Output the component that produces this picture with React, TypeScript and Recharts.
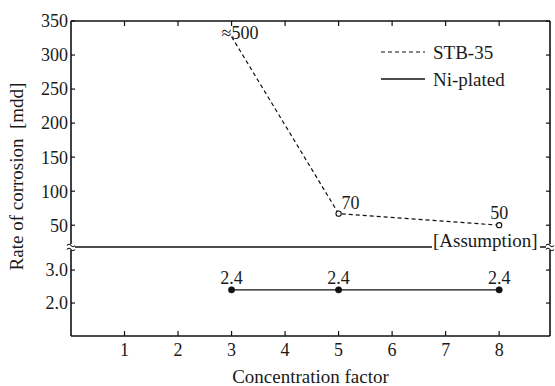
import { ComposedChart, Line, XAxis, YAxis, LabelList, Legend } from 'recharts';

// Corrosion rate vs. concentration factor (broken y axis: mdd above, small values below)
const concentration = [3, 5, 8];
// first STB-35 point is off scale (≈500 mdd), drawn just under the top edge
const stbPlotted = [327, 67, 50];
const stbLabels = ['≈500', '70', '50'];
const niPlated = [2.4, 2.4, 2.4];
const niLabels = ['2.4', '2.4', '2.4'];
const seriesNames = ['STB-35', 'Ni-plated'];

const xTicks = [1, 2, 3, 4, 5, 6, 7, 8];
const upperTicks = [50, 100, 150, 200, 250, 300, 350];
const lowerTicks = [2, 3];

const upperData = concentration.map((c, i) => ({ c, stb: stbPlotted[i], label: stbLabels[i] }));
const lowerData = concentration.map((c, i) => ({ c, ni: niPlated[i], label: niLabels[i] }));

const W = 555;
const H = 386;
const INK = '#111';
const TEXT = '#1a1a1a';
const X_DOMAIN: [number, number] = [0, 8.95];
const BREAK_Y = 247;
const LOWER_TOP = 240;

const tickStyle = { fontSize: 18, fill: TEXT };
const axisLine = { stroke: INK, strokeWidth: 1.6 };
const tickLine = { stroke: INK, strokeWidth: 1.2 };
const noLabel = () => <g />;

const StbLabel = (props: any) => {
  const { x, y, value, index } = props;
  if (index === 0) {
    return <text x={x - 10} y={y + 2} fontSize={18} fill={TEXT}>{value}</text>;
  }
  if (index === 1) {
    return <text x={x + 3} y={y - 5} fontSize={18} fill={TEXT}>{value}</text>;
  }
  return <text x={x} y={y - 6} fontSize={18} fill={TEXT} textAnchor="middle">{value}</text>;
};

const StbDot = (props: any) => {
  const { cx, cy, index } = props;
  if (index === 0) return <g key={`d${index}`} />;
  return <circle key={`d${index}`} cx={cx} cy={cy} r={2.6} fill="#fff" stroke={INK} strokeWidth={1.1} />;
};

const renderLegend = () => (
  <svg width={170} height={60}>
    <line x1={3} x2={47} y1={14} y2={14} stroke={INK} strokeWidth={1.2} strokeDasharray="4 3" />
    <text x={55} y={21} fontSize={19} fill={TEXT}>{seriesNames[0]}</text>
    <line x1={3} x2={47} y1={41} y2={41} stroke={INK} strokeWidth={1.3} />
    <text x={55} y={48} fontSize={19} fill={TEXT}>{seriesNames[1]}</text>
  </svg>
);

const breakMark = (x: number, y: number) => (
  <g>
    <rect x={x - 4} y={y - 3} width={8} height={6} fill="#fff" />
    <path d={`M${x - 4},${y - 1.5} q2,-2.5 4,0 t4,0`} fill="none" stroke={INK} strokeWidth={1.1} />
    <path d={`M${x - 4},${y + 2.5} q2,-2.5 4,0 t4,0`} fill="none" stroke={INK} strokeWidth={1.1} />
  </g>
);

export default function App() {
  return (
    <div
      style={{
        position: 'absolute',
        left: 0,
        top: 0,
        width: W,
        height: H,
        background: '#fff',
        fontFamily: "'Liberation Serif', 'DejaVu Serif', serif",
      }}
    >
      {/* upper panel: 18 .. 350 mdd */}
      <div style={{ position: 'absolute', left: 0, top: 0 }}>
        <ComposedChart width={W} height={250} data={upperData} margin={{ top: 20, right: 4, bottom: 250 - BREAK_Y, left: 21 }}>
          <XAxis
            dataKey="c"
            type="number"
            orientation="top"
            domain={X_DOMAIN}
            ticks={xTicks}
            height={1}
            tick={noLabel}
            tickSize={-5}
            axisLine={axisLine}
            tickLine={tickLine}
          />
          <YAxis
            domain={[18, 350]}
            ticks={upperTicks}
            allowDataOverflow
            width={50}
            tick={tickStyle}
            tickSize={-4}
            tickMargin={7}
            axisLine={axisLine}
            tickLine={tickLine}
          />
          <YAxis
            yAxisId="r"
            orientation="right"
            domain={[18, 350]}
            ticks={upperTicks}
            allowDataOverflow
            width={1}
            tick={noLabel}
            tickSize={-4}
            axisLine={axisLine}
            tickLine={tickLine}
          />
          <Legend
            content={renderLegend}
            layout="horizontal"
            align="center"
            verticalAlign="middle"
            wrapperStyle={{ left: 378, top: 38, width: 170, height: 60 }}
          />
          <Line
            dataKey="stb"
            name={seriesNames[0]}
            stroke={INK}
            strokeWidth={1.2}
            strokeDasharray="4 3"
            dot={StbDot}
            activeDot={false}
            isAnimationActive={false}
          >
            <LabelList dataKey="label" content={StbLabel} />
          </Line>
        </ComposedChart>
      </div>

      {/* lower panel: 1.0 .. 3.7 mdd */}
      <div style={{ position: 'absolute', left: 0, top: LOWER_TOP }}>
        <ComposedChart
          width={W}
          height={H - LOWER_TOP}
          data={lowerData}
          margin={{ top: BREAK_Y - LOWER_TOP - 1, right: 4, bottom: 0, left: 21 }}
        >
          <XAxis
            dataKey="c"
            type="number"
            domain={X_DOMAIN}
            ticks={xTicks}
            height={50}
            tick={tickStyle}
            tickSize={-5}
            tickMargin={12}
            axisLine={axisLine}
            tickLine={tickLine}
            label={{ value: 'Concentration factor', position: 'insideBottom', offset: 3, fontSize: 19, fill: TEXT }}
          />
          <XAxis
            xAxisId="brk"
            dataKey="c"
            type="number"
            orientation="top"
            domain={X_DOMAIN}
            ticks={xTicks}
            height={1}
            tick={noLabel}
            tickLine={false}
            axisLine={{ stroke: INK, strokeWidth: 1.3 }}
          />
          <YAxis
            domain={[1, 3.7]}
            ticks={lowerTicks}
            allowDataOverflow
            width={50}
            tick={tickStyle}
            tickFormatter={(v: number) => v.toFixed(1)}
            tickSize={-4}
            tickMargin={7}
            axisLine={axisLine}
            tickLine={tickLine}
          />
          <YAxis
            yAxisId="r"
            orientation="right"
            domain={[1, 3.7]}
            ticks={lowerTicks}
            allowDataOverflow
            width={1}
            tick={noLabel}
            tickSize={-4}
            axisLine={axisLine}
            tickLine={tickLine}
          />
          <Line
            dataKey="ni"
            name={seriesNames[1]}
            stroke={INK}
            strokeWidth={1.3}
            dot={{ r: 3.2, fill: INK, stroke: INK, strokeWidth: 0.5 }}
            activeDot={false}
            isAnimationActive={false}
          >
            <LabelList dataKey="label" position="top" offset={6} fontSize={18} fill={TEXT} />
          </Line>
        </ComposedChart>
      </div>

      {/* axis title, break marks and note */}
      <svg width={W} height={H} style={{ position: 'absolute', left: 0, top: 0, pointerEvents: 'none' }}>
        <text x={22.5} y={176.5} transform="rotate(-90 22.5 176.5)" textAnchor="middle" fontSize={19} fill={TEXT}>
          {'Rate of corrosion\u00a0\u00a0[mdd]'}
        </text>
        <rect x={432} y={236} width={108} height={14} fill="#fff" />
        <text x={433} y={247} fontSize={19} fill={TEXT}>[Assumption]</text>
        {breakMark(71, BREAK_Y)}
        {breakMark(550, BREAK_Y)}
      </svg>
    </div>
  );
}
